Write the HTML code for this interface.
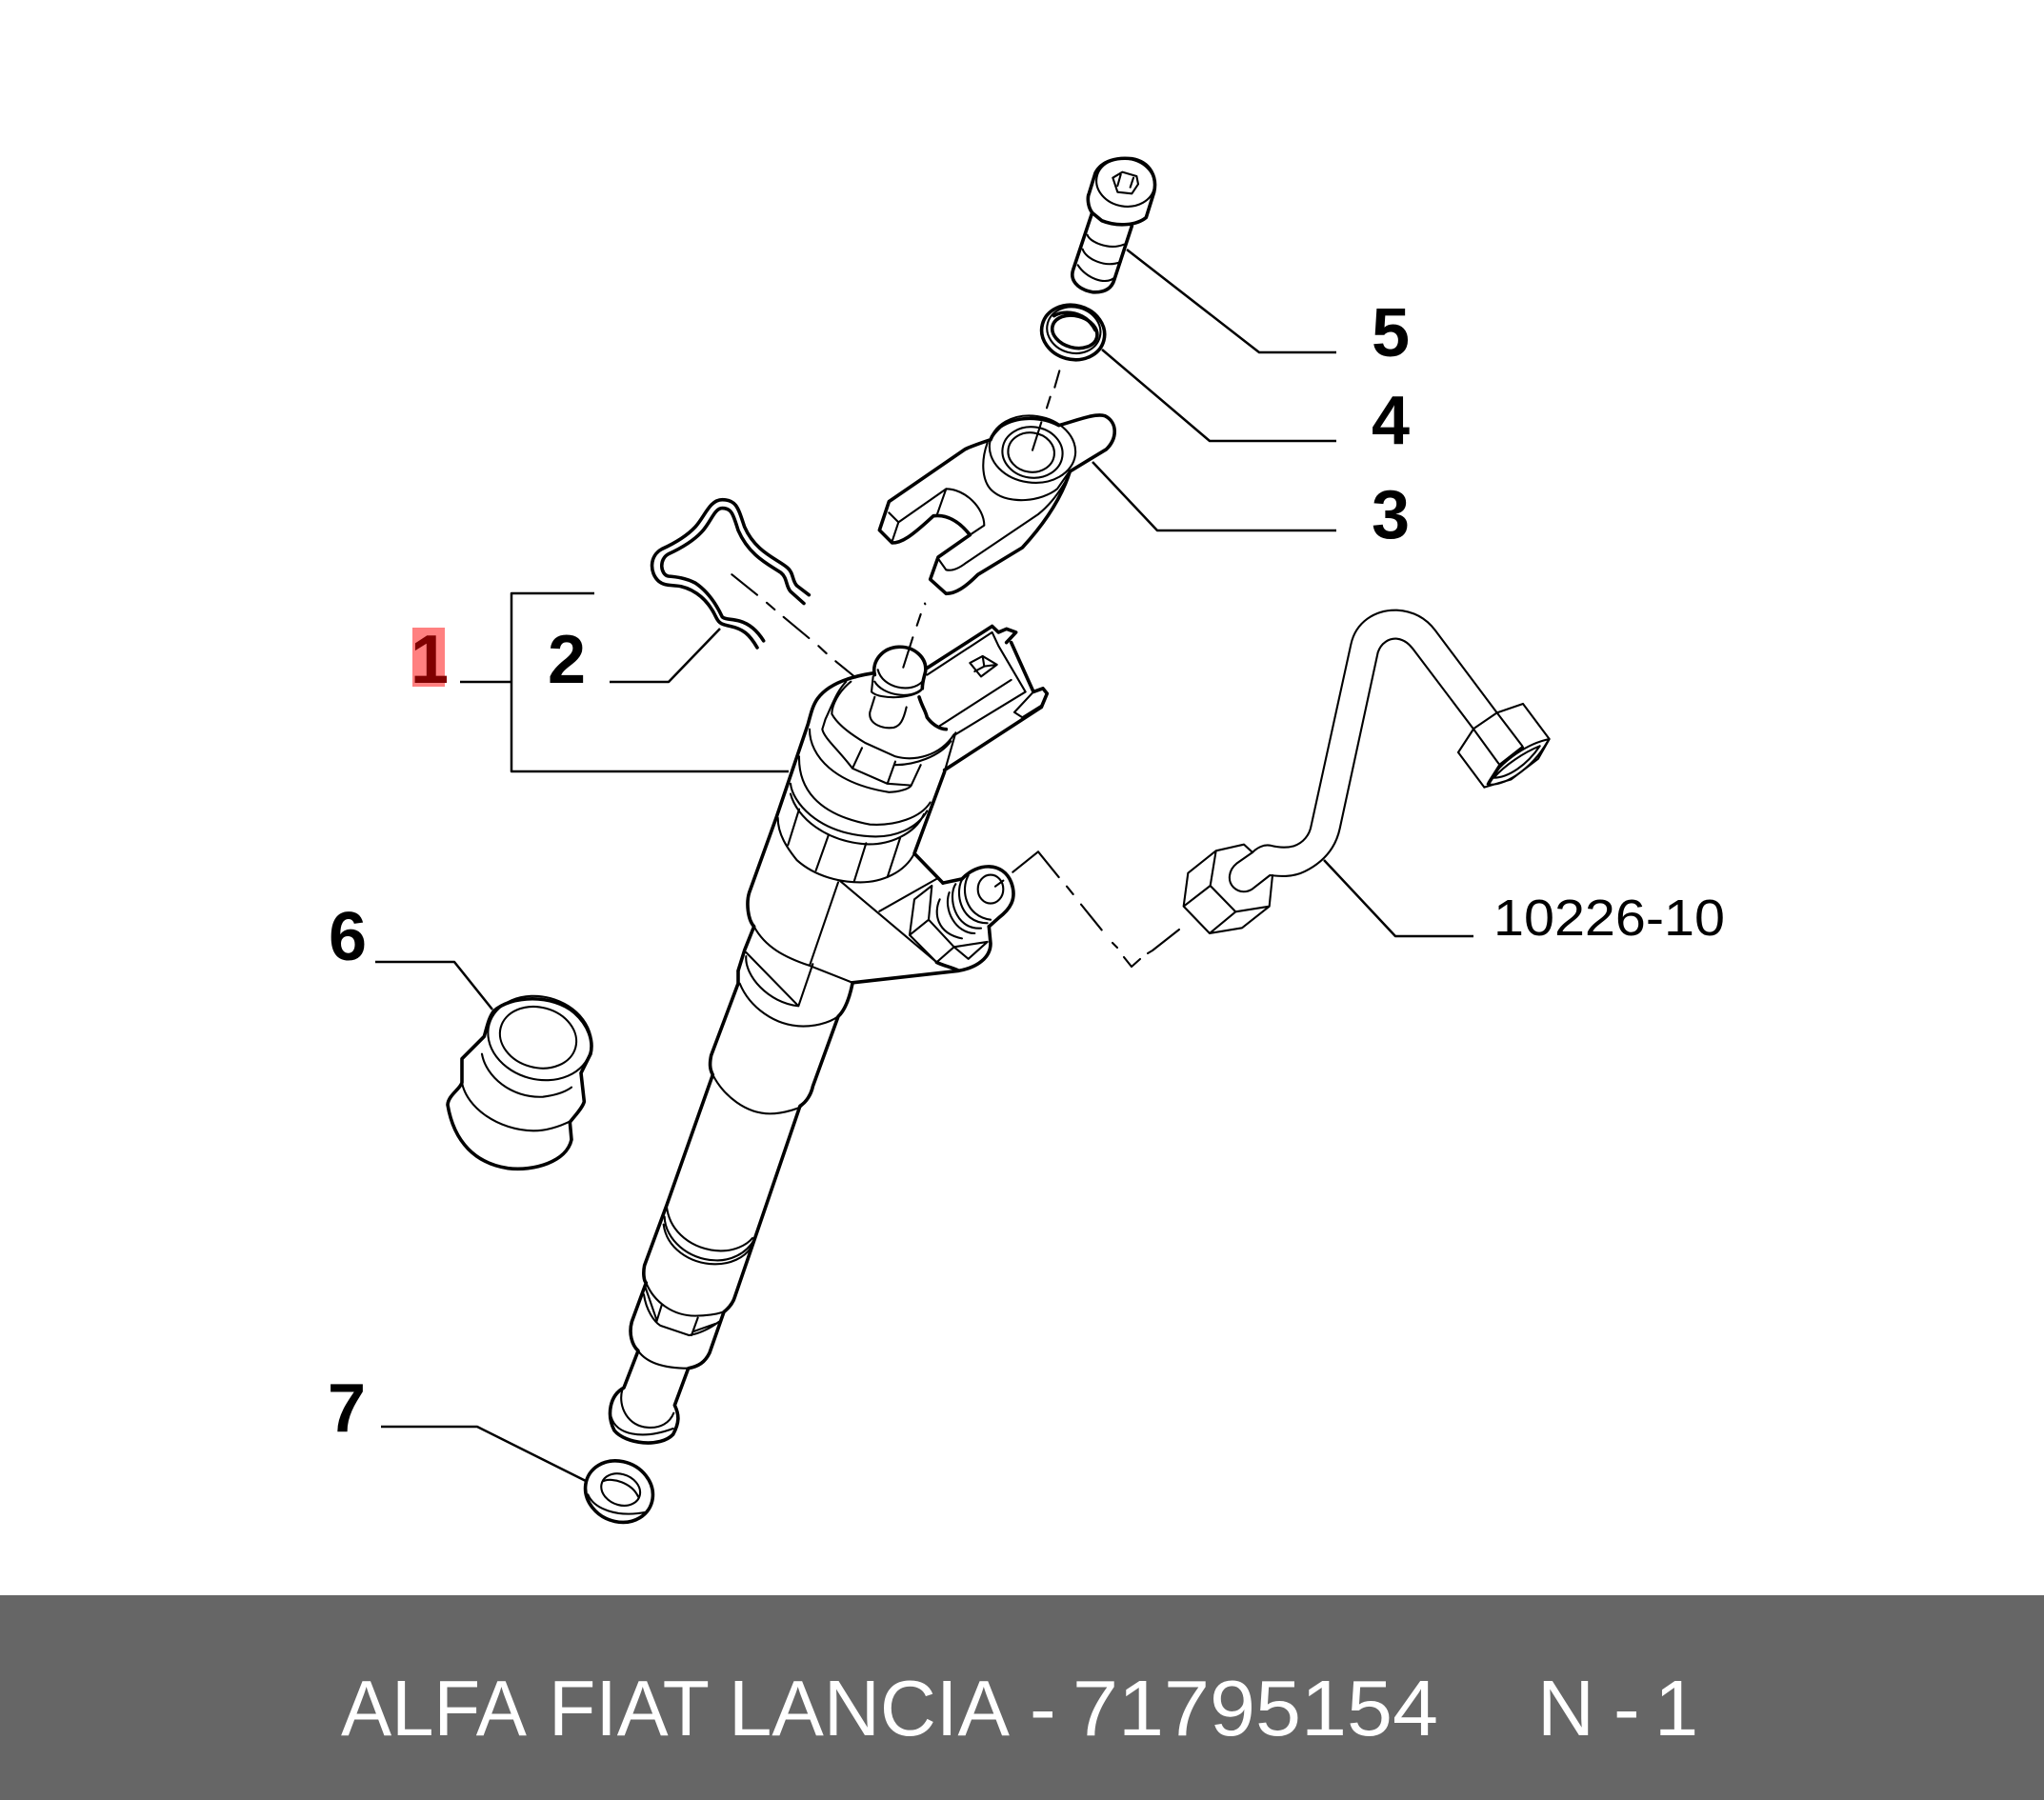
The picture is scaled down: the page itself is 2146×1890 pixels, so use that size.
<!DOCTYPE html>
<html><head><meta charset="utf-8"><style>
html,body{margin:0;padding:0;background:#fff}
svg{display:block}
path,ellipse,line,polyline{fill:none;stroke:#000;vector-effect:non-scaling-stroke;stroke-linejoin:round;stroke-linecap:round}
.k{stroke-width:3.6}.t{stroke-width:2.1}.l{stroke-width:2.5;stroke-linecap:butt}
text{font-family:"Liberation Sans",sans-serif}
.b{font-weight:bold;font-size:72px;fill:#000}
.w{font-size:83px;fill:#fff}
</style></head><body>
<svg width="2146" height="1890" viewBox="0 0 2146 1890" xmlns="http://www.w3.org/2000/svg">
<rect width="2146" height="1890" fill="#fff"/>
<g transform="translate(640,480) scale(.33333,.35714)">
<path class="k" d="M628,405L590,378C575,365 580,340 560,325C530,300 460,280 425,205C405,150 400,125 355,125C315,125 300,175 270,205C240,235 200,255 165,270C125,290 125,340 155,365C175,380 195,375 225,380C270,390 310,420 335,470C345,490 355,492 380,497C420,505 440,520 465,560"/>
<path class="k" d="M612,430L570,395C555,380 560,355 540,340C500,315 440,290 405,215C390,170 385,150 355,150C330,150 320,190 290,220C260,250 220,270 185,285C155,300 160,345 185,350C210,352 240,355 270,370C310,395 335,430 355,470C365,478 385,475 410,482C440,490 465,510 485,540"/>
<path class="t" d="M385,345L465,405M495,428L520,448M548,470L628,532M658,555L683,577M712,600L775,648M993,430L994,432M980,462L968,495M955,530L925,618"/>
<path class="k" d="M830,635C760,645 690,665 655,710C640,730 635,750 625,785L525,1060L440,1280C430,1310 435,1360 455,1380L425,1450L405,1510"/>
<path class="k" d="M975,705C985,735 995,745 1000,765C1015,785 1040,800 1060,800M1055,925L960,1165L1050,1252"/>
<path class="t" d="M1090,810L1055,925"/>
<path class="k" d="M1000,620L1205,497M1205,497L1225,515L1250,505L1280,515L1250,545M1265,545L1335,690L1365,680L1378,695L1360,735L1055,920"/>
<path class="t" d="M1000,640L1205,515L1225,555L1310,690L1090,815M1040,790L1265,655M1335,690L1275,750L1300,765L1360,730M1135,605L1175,585L1220,610L1170,645ZM1175,585L1180,615L1150,630M1180,615L1220,610"/>
<path class="k" d="M835,640C825,600 860,560 910,558C960,556 1000,590 995,630C990,650 985,660 985,680"/>
<path class="t" d="M830,645L825,690C850,715 970,710 985,680M845,625C860,680 950,695 985,660M835,660C860,700 950,715 985,680M835,705L820,750C815,785 860,800 895,795C915,790 925,775 935,735"/>
<path class="t" d="M745,660C715,690 705,720 680,770L670,800C675,825 720,860 765,915L875,960L950,965L980,905M760,660C720,690 700,730 700,755C720,790 770,820 805,840L900,880C960,895 1040,880 1085,815M795,855L765,915M900,895L875,960M900,905C960,905 1040,880 1075,835"/>
<path class="t" d="M630,800C630,880 710,960 880,985C910,985 945,975 950,965M597,880C595,970 650,1050 820,1080C900,1085 980,1060 1010,1015M570,960C575,1010 650,1105 820,1115C900,1120 970,1090 1000,1040M570,990C590,1060 680,1130 810,1138C880,1140 960,1110 990,1050"/>
<path class="t" d="M530,1060C530,1110 560,1150 590,1185C650,1235 730,1250 790,1250C860,1250 930,1220 960,1165M597,1035L562,1140M690,1110L650,1215M808,1135L770,1248M915,1120L875,1235"/>
<path class="t" d="M725,1245L1030,1485M720,1250L630,1495M850,1335L1030,1240M455,1380C490,1440 550,1470 630,1495L765,1545"/>
<path class="k" d="M765,1545L1100,1510C1160,1500 1200,1470 1200,1430L1195,1380M1030,1485C1050,1495 1080,1500 1100,1510"/>
<path class="t" d="M945,1405L960,1300L1015,1260L1005,1360L945,1405L1030,1485M1005,1360L1085,1440L1190,1425M1085,1440L1030,1485M1085,1440L1130,1475L1190,1425M1040,1300C1020,1340 1030,1400 1110,1415"/>
<path class="k" d="M1050,1252L1110,1240C1160,1190 1240,1190 1265,1250C1285,1300 1260,1330 1225,1355L1195,1380"/>
<path class="t" d="M1115,1235C1085,1270 1100,1370 1190,1370M1090,1255C1065,1290 1085,1390 1170,1385M1070,1280C1050,1330 1090,1400 1150,1400M1130,1230C1105,1270 1120,1350 1200,1360"/>
<ellipse class="t" cx="1200" cy="1270" rx="40" ry="42"/>
<path class="t" d="M1215,1262L1240,1245M1270,1220L1350,1160L1415,1235M1440,1262L1460,1285M1485,1315L1550,1390"/>
</g>
<g transform="translate(880,150) scale(.33333)">
<path class="k" d="M800,220C785,200 785,170 790,160L810,95C830,55 880,45 925,50C985,60 1005,110 995,155L970,235C940,260 880,265 830,245L800,220L740,400C730,430 750,460 800,470C830,472 860,465 870,430L925,262"/>
<ellipse class="t" cx="905" cy="125" rx="92" ry="75" transform="rotate(10 905 125)"/>
<path class="t" d="M865,110L895,92L940,105L945,130L925,160L880,155ZM890,100L880,135M930,110L920,140M785,290C790,310 850,340 900,320M770,335C780,365 840,395 890,375M755,385C780,425 840,450 870,425"/>
<ellipse class="k" cx="740" cy="597" rx="100" ry="85" transform="rotate(15 740 597)"/>
<ellipse class="k" cx="745" cy="595" rx="72" ry="50" transform="rotate(15 745 595)"/>
<ellipse class="t" cx="742" cy="590" rx="85" ry="72" transform="rotate(15 742 590)"/>
<path class="k" d="M680,545C710,525 780,530 810,590"/>
<path class="t" d="M697,718L682,770M668,800L657,835M640,880L612,968"/>
<path class="k" d="M480,935C450,945 420,955 400,965L160,1130L130,1220L170,1260C200,1260 230,1240 300,1175C340,1170 380,1190 415,1235L315,1305L290,1375L340,1420C370,1420 400,1400 440,1360L580,1275C640,1210 700,1130 730,1035L845,965C880,930 880,880 840,860C810,850 750,875 695,890C640,860 560,860 510,895C495,910 485,920 480,935"/>
<ellipse class="t" cx="612" cy="965" rx="136" ry="105" transform="rotate(8 612 965)"/>
<ellipse class="t" cx="612" cy="975" rx="95" ry="80" transform="rotate(8 612 975)"/>
<ellipse class="t" cx="608" cy="975" rx="73" ry="62" transform="rotate(8 608 975)"/>
<path class="t" d="M470,945C450,1000 450,1070 490,1100C540,1140 640,1130 690,1090L725,1040M160,1165L190,1195L170,1255M190,1195L340,1090L310,1175M340,1090C400,1090 460,1150 460,1205L415,1235M315,1310L340,1345C360,1350 380,1340 400,1325L630,1170C680,1130 710,1080 730,1040"/>
</g>
<g transform="translate(600,1000) scale(.33333,.40816)">
<path class="k" d="M525,50L525,80L440,265C435,285 435,300 445,315L300,650L230,805C225,825 228,845 235,850L190,950C180,980 190,1010 210,1025L165,1120C120,1140 110,1190 135,1230C170,1265 280,1275 320,1240C340,1210 340,1190 325,1165L368,1070C400,1065 420,1055 435,1030L480,925C495,915 510,900 515,885L580,730L720,395C740,385 755,365 760,345L840,165C860,150 875,120 885,80"/>
<path class="t" d="M530,80C560,140 640,190 730,190C780,190 830,175 845,160M550,10C545,60 620,130 715,138L550,0M715,138L760,30"/>
<path class="t" d="M445,315C480,370 550,415 625,415C670,415 720,400 725,395M300,655C310,720 380,765 470,768C510,768 550,755 570,735M293,680C295,740 370,790 450,792C500,795 550,775 575,740M290,700C300,760 370,800 450,802C500,803 545,785 565,760M235,850C260,900 320,935 390,935C430,935 460,930 480,925M228,880C235,920 260,950 280,960L370,985C410,980 440,965 465,950M232,860L268,945M285,905L268,950M398,940L378,985M385,975L455,955M210,1025C240,1060 300,1070 368,1070M160,1125C145,1170 180,1220 240,1222C280,1225 310,1210 322,1185M125,1195C140,1240 220,1255 320,1225"/>
<ellipse class="k" cx="150" cy="1387" rx="107" ry="78" transform="rotate(10 150 1387)"/>
<path class="t" d="M52,1395C70,1430 140,1455 235,1440"/>
<ellipse class="t" cx="155" cy="1382" rx="62" ry="40" transform="rotate(12 155 1382)"/>
<path class="t" d="M100,1360C130,1350 190,1365 210,1400"/>
</g>
<g transform="translate(320,930) scale(.33333)">
<path class="k" d="M595,395C650,345 780,340 850,400C895,440 910,490 900,530L870,590L880,680C875,700 850,725 835,745L840,800C825,870 720,900 640,890C540,875 470,810 450,690C452,660 490,640 495,620L495,545L565,475C575,440 580,415 595,395Z"/>
<ellipse class="t" cx="740" cy="480" rx="165" ry="130" transform="rotate(15 740 480)"/>
<ellipse class="t" cx="735" cy="478" rx="122" ry="95" transform="rotate(15 735 478)"/>
<path class="t" d="M558,530C570,600 650,670 750,665C790,660 820,650 840,635M495,620C510,700 610,770 720,772C760,772 800,760 840,740"/>
</g>
<g transform="translate(1200,620) scale(.33333)">
<path class="t" d="M345,825C360,810 380,800 400,803C420,808 450,812 475,805C505,795 525,770 530,740L655,170C670,100 730,60 800,62C850,65 890,85 920,125L1115,385L1195,490"/>
<path class="t" d="M345,825L295,860C270,880 265,915 285,935C305,955 330,950 345,940L400,897C430,900 470,905 510,885C560,860 605,820 620,750L740,195C750,165 775,150 800,152C825,155 840,170 855,190L1040,435L1120,545"/>
<path class="t" d="M345,825L318,800L230,820L142,890L128,995L210,1080L312,1063L398,995L408,897M230,820L212,930L128,995M212,930L292,1012L398,995M292,1012L210,1080"/>
<path class="t" d="M1115,385L1197,357L1280,468M1115,385L1042,435L993,510L1075,620M1280,468L1245,530L1160,595L1075,620M1280,468C1220,480 1130,530 1085,610C1130,620 1220,570 1275,475M1250,490C1200,510 1140,550 1105,590C1150,590 1210,550 1250,490"/>
<path class="k" d="M1195,495L1125,550L1090,605"/>
</g>
<path class="l" d="M624,623H537V810H828M483,716H537"/>
<path class="l" d="M640,716H702L756,660"/>
<path class="l" d="M1183,262L1322,370H1403M1157,367L1270,463H1403M1147,485L1215,557H1403"/>
<path class="l" d="M394,1010H477L517,1060"/>
<path class="l" d="M400,1498H501L615,1555"/>
<path class="l" d="M1390,903L1465,983H1547"/>
<path class="t" d="M1197,1007L1188,1015L1180,1005M1173,995L1168,990M1205,1001L1210,998L1238,976"/>
<rect x="433" y="659" width="34" height="62" fill="#ff8080"/>
<text x="431" y="717" class="b" style="fill:#800000">1</text>
<text x="575" y="717" class="b">2</text>
<text x="1440" y="374" class="b">5</text>
<text x="1440" y="466" class="b">4</text>
<text x="1440" y="565" class="b">3</text>
<text x="345" y="1008" class="b">6</text>
<text x="344" y="1503" class="b">7</text>
<text x="1568" y="982" font-size="54" textLength="243" lengthAdjust="spacingAndGlyphs">10226-10</text>
<rect x="0" y="1675" width="2146" height="215" fill="#666"/>
<text x="358" y="1822" class="w" textLength="195" lengthAdjust="spacingAndGlyphs">ALFA</text>
<text x="576" y="1822" class="w" textLength="169" lengthAdjust="spacingAndGlyphs">FIAT</text>
<text x="765" y="1822" class="w" textLength="295" lengthAdjust="spacingAndGlyphs">LANCIA</text>
<text x="1081" y="1822" class="w">-</text>
<text x="1126" y="1822" class="w" textLength="384" lengthAdjust="spacingAndGlyphs">71795154</text>
<text x="1614" y="1822" class="w">N</text>
<text x="1694" y="1822" class="w">-</text>
<text x="1737" y="1822" class="w">1</text>
</svg>
</body></html>
